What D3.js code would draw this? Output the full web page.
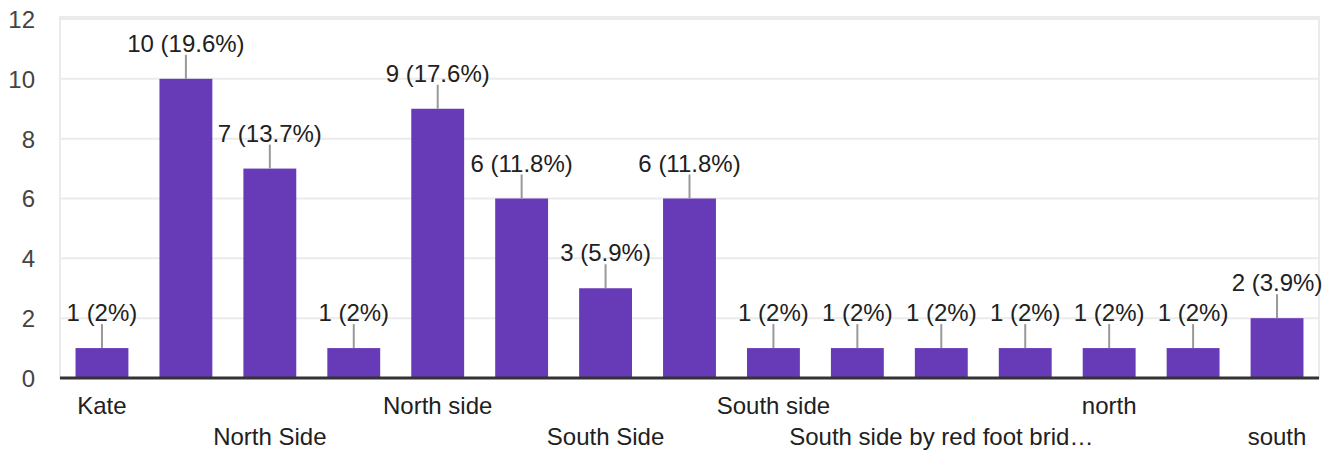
<!DOCTYPE html>
<html>
<head>
<meta charset="utf-8">
<script src="https://cdn.jsdelivr.net/npm/d3@7"></script>
<style>
  html, body { margin: 0; padding: 0; background: #fff; }
  svg { display: block; font-family: "Liberation Sans", Arial, sans-serif; }
</style>
</head>
<body>
<svg id="chart" width="1335" height="450"></svg>
<script>
// Responses per answer
const categories = [
  "Kate", "North", "North Side", "North Side of river", "North side",
  "Northside", "South Side", "South Side of river", "South side",
  "South side by bridge", "South side by red foot bridge", "Southside",
  "north", "north side", "south"
];
const counts = [1, 10, 7, 1, 9, 6, 3, 6, 1, 1, 1, 1, 1, 1, 2];
const yTicks = [0, 2, 4, 6, 8, 10, 12];

const total = d3.sum(counts);
const rows = categories.map((c, i) => ({ name: c, value: counts[i], i }));

const svg = d3.select("#chart");
const plotLeft = 60, plotRight = 1319, plotTop = 19, plotBase = 378;

const x = d3.scaleBand()
  .domain(categories)
  .range([plotLeft, plotRight])
  .paddingInner(0.37)
  .paddingOuter(0.185);

const y = d3.scaleLinear().domain([0, 12]).range([plotBase, plotTop]);

// Gridlines and frame
const grid = svg.append("g");
grid.selectAll("line.h")
  .data(yTicks)
  .join("line")
  .attr("x1", plotLeft).attr("x2", plotRight)
  .attr("y1", d => y(d)).attr("y2", d => y(d))
  .attr("stroke", "#ebebeb").attr("stroke-width", 2);
grid.append("rect")
  .attr("x", plotLeft).attr("y", plotTop - 2)
  .attr("width", plotRight - plotLeft).attr("height", plotBase - plotTop + 2)
  .attr("fill", "none").attr("stroke", "#ebebeb").attr("stroke-width", 2);

// Y axis labels
const yAxis = d3.axisLeft(y).tickValues(yTicks).tickSize(0).tickPadding(0);
svg.append("g")
  .attr("transform", `translate(35,0)`)
  .call(yAxis)
  .call(g => g.select(".domain").remove())
  .call(g => g.selectAll("text")
    .attr("font-size", 24)
    .attr("font-family", "Liberation Sans, Arial, sans-serif")
    .attr("fill", "#444")
    .attr("dy", "0.35em"));

// Bars
svg.append("g").selectAll("rect")
  .data(rows)
  .join("rect")
  .attr("x", d => x(d.name))
  .attr("y", d => y(d.value))
  .attr("width", x.bandwidth())
  .attr("height", d => plotBase - y(d.value))
  .attr("fill", "#673ab7");

// Baseline
svg.append("line")
  .attr("x1", plotLeft).attr("x2", plotRight)
  .attr("y1", plotBase).attr("y2", plotBase)
  .attr("stroke", "#333").attr("stroke-width", 3);

// Value leaders and labels
const fmtPct = v => {
  const p = (v / total * 100).toFixed(1);
  return (p.endsWith(".0") ? p.slice(0, -2) : p) + "%";
};
const cx = d => x(d.name) + x.bandwidth() / 2;

svg.append("g").selectAll("line")
  .data(rows)
  .join("line")
  .attr("x1", cx).attr("x2", cx)
  .attr("y1", d => y(d.value)).attr("y2", d => y(d.value) - 24)
  .attr("stroke", "#999").attr("stroke-width", 2);

svg.append("g").selectAll("text")
  .data(rows)
  .join("text")
  .attr("x", cx)
  .attr("y", d => y(d.value) - 27)
  .attr("text-anchor", "middle")
  .attr("font-size", 24)
  .attr("fill", "#212121")
  .text(d => `${d.value} (${fmtPct(d.value)})`);

// Category labels: every other one, staggered over two rows
const shorten = s => s.length > 27 ? s.slice(0, 27) + "\u2026" : s;
svg.append("g").selectAll("text")
  .data(rows.filter(d => d.i % 2 === 0))
  .join("text")
  .attr("x", cx)
  .attr("y", d => (d.i % 4 === 0) ? 414 : 445)
  .attr("text-anchor", "middle")
  .attr("font-size", 24)
  .attr("fill", "#212121")
  .text(d => shorten(d.name));
</script>
</body>
</html>
